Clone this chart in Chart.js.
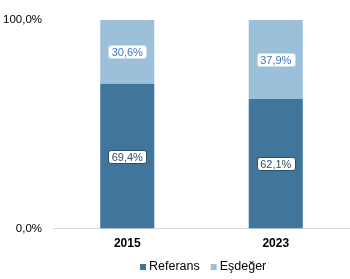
<!DOCTYPE html>
<html><head><meta charset="utf-8">
<script src="https://cdn.jsdelivr.net/npm/chart.js@4.4.1/dist/chart.umd.min.js"></script>
<style>html,body{margin:0;padding:0;background:#fff}#w{width:350px;height:279px}</style>
</head><body><div id="w"><canvas id="c"></canvas></div>
<script>
const categories = ["2015", "2023"];
const referans = [69.4, 62.1];
const esdeger = [30.6, 37.9];
const seriesNames = ["Referans", "Eşdeğer"];
const yTicks = [0, 100];

const FONT = '"Liberation Sans", Arial, sans-serif';
const fmt = v => v.toFixed(1).replace('.', ',') + '%';

const labelPlugin = {
  id: 'boxLabels',
  afterDatasetsDraw(chart) {
    const ctx = chart.ctx;
    chart.data.datasets.forEach((ds, di) => {
      const meta = chart.getDatasetMeta(di);
      meta.data.forEach((bar, i) => {
        const txt = fmt(ds.data[i]);
        const cy = (bar.y + bar.base) / 2;
        ctx.save();
        ctx.font = '11px ' + FONT;
        const w = Math.round(ctx.measureText(txt).width + 7);
        const h = 13;
        const x = Math.round(bar.x - w / 2) + 0.5, y = Math.round(cy - h / 2) + 0.5;
        ctx.beginPath();
        ctx.roundRect(x, y, w, h, 2.5);
        ctx.fillStyle = '#ffffff';
        ctx.fill();
        ctx.lineWidth = 1;
        ctx.strokeStyle = di === 0 ? '#2E4F6B' : '#C9DCEB';
        ctx.stroke();
        ctx.fillStyle = di === 0 ? '#2E4F6B' : '#4472C4';
        ctx.textAlign = 'center';
        ctx.textBaseline = 'middle';
        ctx.fillText(txt, bar.x, y + h / 2 + 0.5);
        ctx.restore();
      });
    });
  }
};

const legendPlugin = {
  id: 'customLegend',
  afterDraw(chart) {
    const ctx = chart.ctx;
    const area = chart.chartArea;
    ctx.save();
    ctx.font = '12.5px ' + FONT;
    const box = 6, gapText = 3, gapItem = 11;
    const items = chart.data.datasets.map(d => ({ text: d.label, color: d.backgroundColor, w: ctx.measureText(d.label).width }));
    const total = items.reduce((s, it) => s + box + gapText + it.w, 0) + gapItem * (items.length - 1);
    let x = Math.round((area.left + area.right) / 2 + 1.5 - total / 2);
    const cy = 267;
    ctx.textBaseline = 'middle';
    ctx.textAlign = 'left';
    items.forEach(it => {
      ctx.fillStyle = it.color;
      ctx.fillRect(x, cy - box / 2, box, box);
      x += box + gapText;
      ctx.fillStyle = '#000';
      ctx.fillText(it.text, x, cy - 0.5);
      x += it.w + gapItem;
    });
    ctx.restore();
  }
};

new Chart(document.getElementById('c'), {
  type: 'bar',
  data: {
    labels: categories,
    datasets: [
      { label: seriesNames[0], data: referans, backgroundColor: '#41769C', borderWidth: 0 },
      { label: seriesNames[1], data: esdeger, backgroundColor: '#9DC0DA', borderWidth: 0 }
    ]
  },
  options: {
    responsive: true,
    maintainAspectRatio: false,
    animation: false,
    layout: { padding: { left: 3, right: -5, top: 20, bottom: 20 } },
    datasets: { bar: { barPercentage: 0.364, categoryPercentage: 1 } },
    scales: {
      x: {
        stacked: true,
        grid: { display: false, drawTicks: false },
        border: { color: '#D9D9D9', width: 1 },
        ticks: { color: '#000', padding: 8, font: { family: FONT, size: 12, weight: 'bold' } }
      },
      y: {
        stacked: true,
        min: 0, max: 100,
        afterBuildTicks: s => { s.ticks = yTicks.map(v => ({ value: v })); },
        afterFit: s => { s.width = 50; },
        grid: { display: false, drawTicks: false },
        border: { display: false },
        ticks: { color: '#000', padding: 11, callback: v => fmt(v), font: { family: FONT, size: 11.5 } }
      }
    },
    plugins: {
      legend: { display: false },
      tooltip: { enabled: false }
    }
  },
  plugins: [labelPlugin, legendPlugin]
});
</script></body></html>
